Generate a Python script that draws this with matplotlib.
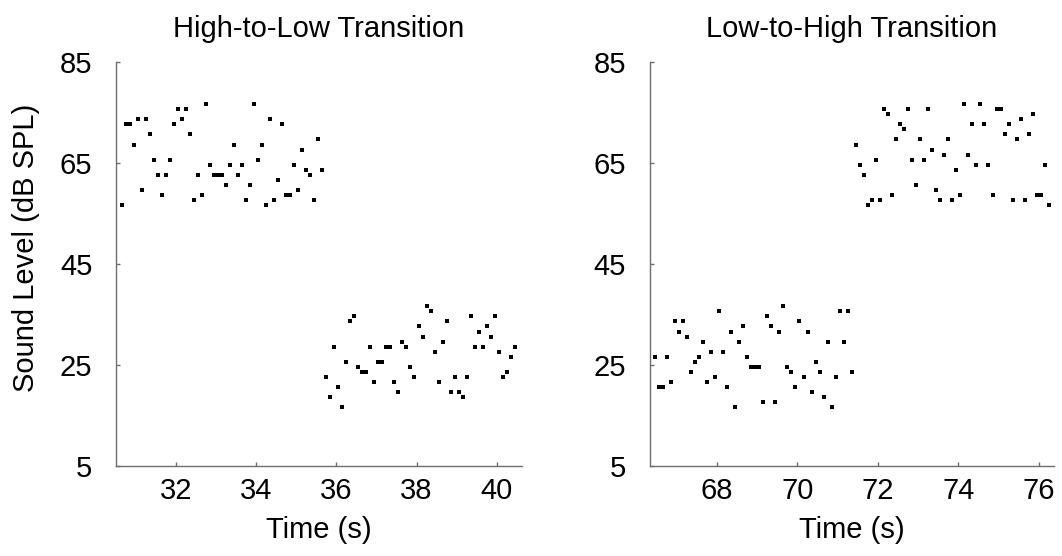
import matplotlib
matplotlib.use('Agg')
import matplotlib.pyplot as plt

plt.rcParams['font.family'] = ['Liberation Sans', 'DejaVu Sans']

# High-to-Low panel: time (s) and sound level (dB SPL) of each tone pip
hl_time = [
    30.65, 30.75, 30.85, 30.95, 31.05, 31.15, 31.25, 31.35, 31.45, 31.55,
    31.65, 31.75, 31.85, 31.95, 32.05, 32.15, 32.25, 32.35, 32.45, 32.55,
    32.65, 32.75, 32.85, 32.95, 33.05, 33.15, 33.25, 33.35, 33.45, 33.55,
    33.65, 33.75, 33.85, 33.95, 34.05, 34.15, 34.25, 34.35, 34.45, 34.55,
    34.65, 34.75, 34.85, 34.95, 35.05, 35.15, 35.25, 35.35, 35.45, 35.55,
    35.65,
    35.75, 35.85, 35.95,
    36.05, 36.15, 36.25, 36.35, 36.45, 36.55, 36.65, 36.75, 36.85, 36.95,
    37.05, 37.15, 37.25, 37.35, 37.45, 37.55, 37.65, 37.75, 37.85, 37.95,
    38.05, 38.15, 38.25, 38.35, 38.45, 38.55, 38.65, 38.75, 38.85, 38.95,
    39.05, 39.15, 39.25, 39.35, 39.45, 39.55, 39.65, 39.75, 39.85, 39.95,
    40.05, 40.15, 40.25, 40.35, 40.45,
]
hl_level = [
    56.6, 72.6, 72.6, 68.6, 73.6, 59.6, 73.6, 70.6, 65.6, 62.6,
    58.6, 62.6, 65.6, 72.6, 75.6, 73.6, 75.6, 70.6, 57.6, 62.6,
    58.6, 76.6, 64.6, 62.6, 62.6, 62.6, 60.6, 64.6, 68.6, 62.6,
    64.6, 57.6, 60.6, 76.6, 65.6, 68.6, 56.6, 73.6, 57.6, 61.6,
    72.6, 58.6, 58.6, 64.6, 59.6, 67.6, 63.6, 62.6, 57.6, 69.6,
    63.6,
    22.6, 18.6, 28.6,
    20.6, 16.6, 25.6, 33.6, 34.6, 24.6, 23.6, 23.6, 28.6, 21.6,
    25.6, 25.6, 28.6, 28.6, 21.6, 19.6, 29.6, 28.6, 24.6, 22.6,
    32.6, 30.6, 36.6, 35.6, 27.6, 21.6, 29.6, 33.6, 19.6, 22.6,
    19.6, 18.6, 22.6, 34.6, 28.6, 31.6, 28.6, 32.6, 30.6, 34.6,
    27.6, 22.6, 23.6, 26.6, 28.6,
]

# Low-to-High panel
lh_time = [
    66.45, 66.55, 66.65, 66.75, 66.85, 66.95,
    67.05, 67.15, 67.25, 67.35, 67.45, 67.55, 67.65, 67.75, 67.85, 67.95,
    68.05, 68.15, 68.25, 68.35, 68.45, 68.55, 68.65, 68.75, 68.85, 68.95,
    69.05, 69.15, 69.25, 69.35, 69.45, 69.55, 69.65, 69.75, 69.85, 69.95,
    70.05, 70.15, 70.25, 70.35, 70.45, 70.55, 70.65, 70.75, 70.85, 70.95,
    71.05, 71.15, 71.25, 71.35,
    71.45, 71.55, 71.65, 71.75, 71.85, 71.95,
    72.05, 72.15, 72.25, 72.35, 72.45, 72.55, 72.65, 72.75, 72.85, 72.95,
    73.05, 73.15, 73.25, 73.35, 73.45, 73.55, 73.65, 73.75, 73.85, 73.95,
    74.05, 74.15, 74.25, 74.35, 74.45, 74.55, 74.65, 74.75, 74.85, 74.95,
    75.05, 75.15, 75.25, 75.35, 75.45, 75.55, 75.65, 75.75, 75.85, 75.95,
    76.05, 76.15, 76.25,
]
lh_level = [
    26.6, 20.6, 20.6, 26.6, 21.6, 33.6,
    31.6, 33.6, 30.6, 23.6, 25.6, 26.6, 29.6, 21.6, 27.6, 22.6,
    35.6, 27.6, 20.6, 31.6, 16.6, 29.6, 32.6, 26.6, 24.6, 24.6,
    24.6, 17.6, 34.6, 32.6, 17.6, 31.6, 36.6, 24.6, 23.6, 20.6,
    33.6, 22.6, 31.6, 19.6, 25.6, 23.6, 18.6, 29.6, 16.6, 22.6,
    35.6, 29.6, 35.6, 23.6,
    68.6, 64.6, 62.6, 56.6, 57.6, 65.6,
    57.6, 75.6, 74.6, 58.6, 69.6, 72.6, 71.6, 75.6, 65.6, 60.6,
    69.6, 65.6, 75.6, 67.6, 59.6, 57.6, 66.6, 69.6, 57.6, 63.6,
    58.6, 76.6, 66.6, 72.6, 64.6, 76.6, 72.6, 64.6, 58.6, 75.6,
    75.6, 70.6, 72.6, 57.6, 69.6, 73.6, 57.6, 70.6, 74.6, 58.6,
    58.6, 64.6, 56.6,
]

level_ticks = [5, 25, 45, 65, 85]
hl_ticks = [32, 34, 36, 38, 40]
lh_ticks = [68, 70, 72, 74, 76]

fig = plt.figure(figsize=(10.62, 5.56), dpi=100)
ax1 = fig.add_axes([0.1092, 0.1619, 0.382, 0.7272])
ax2 = fig.add_axes([0.6118, 0.1619, 0.3807, 0.7272])

grey = '#6e6e6e'
fs = 21


def style_axis(ax, times, levels, xticks, xlim, title):
    ax.plot(times, levels, linestyle='none', marker='s', markersize=3.1,
            markeredgewidth=0, color='black')
    ax.set_xlim(*xlim)
    ax.set_ylim(5, 85)
    ax.set_xticks(xticks)
    ax.set_yticks(level_ticks)
    for side in ['top', 'right']:
        ax.spines[side].set_visible(False)
    for side in ['left', 'bottom']:
        ax.spines[side].set_color(grey)
        ax.spines[side].set_linewidth(1.0)
    ax.tick_params(axis='both', direction='in', length=3, width=1,
                   color=grey, labelsize=fs, labelcolor='black')
    ax.tick_params(axis='y', pad=17)
    ax.tick_params(axis='x', pad=8)
    ax.set_xlabel('Time (s)', fontsize=fs, labelpad=8)
    ax.set_title(title, fontsize=fs, pad=18)


style_axis(ax1, hl_time, hl_level, hl_ticks, (30.506, 40.622), 'High-to-Low Transition')
style_axis(ax2, lh_time, lh_level, lh_ticks, (66.326, 76.38), 'Low-to-High Transition')

ax1.set_ylabel('Sound Level (dB SPL)', fontsize=fs)
ax1.yaxis.set_label_coords(-0.187, 0.54)

fig.savefig('out.png', dpi=100)
